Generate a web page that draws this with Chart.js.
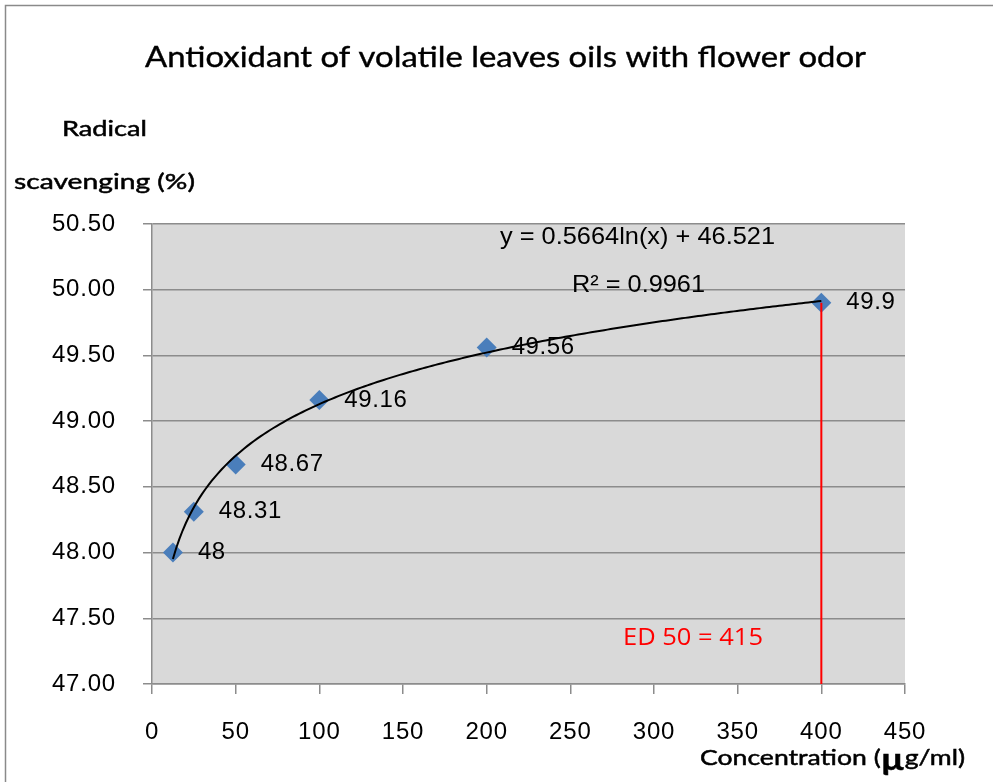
<!DOCTYPE html>
<html><head><meta charset="utf-8">
<script src="https://cdn.jsdelivr.net/npm/chart.js@4.4.1/dist/chart.umd.min.js"></script>
<style>html,body{margin:0;padding:0;background:#fff;}#wrap{width:993px;height:782px;}</style>
</head><body><div id="wrap"><canvas id="c" width="993" height="782"></canvas></div>
<script>
const concentrations = [12.5, 25, 50, 100, 200, 400];
const scavenging = [48, 48.31, 48.67, 49.16, 49.56, 49.9];
const pointLabels = ['48', '48.31', '48.67', '49.16', '49.56', '49.9'];
const xTickValues = [0, 50, 100, 150, 200, 250, 300, 350, 400, 450];
const yTickValues = [47.0, 47.5, 48.0, 48.5, 49.0, 49.5, 50.0, 50.5];
const trendSlope = 0.5664;
const trendIntercept = 46.521;
const trendRange = [12.5, 400];
const ed50X = [400, 400];
const ed50Y = [49.9, 47.0];
const titleText = 'Antioxidant of volatile leaves oils with flower odor';
const equationText = 'y = 0.5664ln(x) + 46.521';
const r2Text = 'R\u00b2 = 0.9961';
const ed50Text = 'ED 50 = 415';

const GRID = '#8c8c8c';
const ARIAL = '"Liberation Sans", Arial, sans-serif';

function fitText(ctx, parts, left, cy, width, color, strokeW) {
  ctx.save();
  ctx.letterSpacing = '0px';
  let total = 0;
  parts.forEach(p => { ctx.font = p.font; p.w = ctx.measureText(p.t).width; total += p.w; });
  const s = width / total;
  ctx.translate(left, cy);
  ctx.scale(s, 1);
  ctx.fillStyle = color;
  ctx.strokeStyle = color;
  ctx.lineWidth = strokeW || 0;
  ctx.textBaseline = 'middle';
  ctx.textAlign = 'left';
  let x = 0;
  parts.forEach(p => {
    ctx.font = p.font;
    ctx.fillText(p.t, x, p.dy || 0);
    if (strokeW) ctx.strokeText(p.t, x, p.dy || 0);
    x += p.w;
  });
  ctx.restore();
}

const decorPlugin = {
  id: 'decor',
  beforeDraw(chart) {
    const ctx = chart.ctx, a = chart.chartArea;
    ctx.save();
    ctx.fillStyle = '#ffffff';
    ctx.fillRect(0, 0, chart.width, chart.height);
    ctx.strokeStyle = '#8a8a8a';
    ctx.lineWidth = 1.5;
    ctx.strokeRect(5.5, 5.5, 1100, 1100);
    ctx.fillStyle = '#d9d9d9';
    ctx.fillRect(a.left, a.top, a.right - a.left, a.bottom - a.top);
    ctx.restore();
    ctx.letterSpacing = '0.8px';
  },
  afterDatasetsDraw(chart) {
    const ctx = chart.ctx, xs = chart.scales.x, ys = chart.scales.y, a = chart.chartArea;
    ctx.save();
    ctx.beginPath();
    ctx.rect(a.left, a.top, a.right - a.left, a.bottom - a.top);
    ctx.clip();
    ctx.strokeStyle = '#000';
    ctx.lineWidth = 2;
    ctx.beginPath();
    const n = 200;
    for (let i = 0; i <= n; i++) {
      const xv = trendRange[0] + (trendRange[1] - trendRange[0]) * i / n;
      const yv = trendSlope * Math.log(xv) + trendIntercept;
      const px = xs.getPixelForValue(xv), py = ys.getPixelForValue(yv);
      if (i === 0) ctx.moveTo(px, py); else ctx.lineTo(px, py);
    }
    ctx.stroke();
    ctx.restore();
    const meta = chart.getDatasetMeta(1);
    ctx.save();
    ctx.letterSpacing = '0.6px';
    ctx.font = '24px ' + ARIAL;
    ctx.fillStyle = '#000';
    ctx.textBaseline = 'middle';
    ctx.textAlign = 'left';
    meta.data.forEach((el, i) => { ctx.fillText(pointLabels[i], el.x + 25, el.y); });
    ctx.restore();
  },
  afterDraw(chart) {
    const ctx = chart.ctx;
    const gothic = 'Lato, "Noto Sans", sans-serif';
    fitText(ctx, [{t: titleText, font: '28px ' + gothic}], 145, 58, 721, '#000', 0.4);
    fitText(ctx, [{t: 'Radical', font: '22px ' + gothic}], 62, 129, 85, '#000', 0.5);
    fitText(ctx, [{t: 'scavenging (%)', font: '22px ' + gothic}], 14, 182, 181, '#000', 0.5);
    fitText(ctx, [
      {t: 'Concentration (', font: '22px ' + gothic},
      {t: '\u00b5', font: 'bold 30px ' + gothic, dy: 2},
      {t: 'g/ml)', font: '22px ' + gothic}
    ], 700, 758, 265, '#000', 0.5);
    const arial = '24px ' + ARIAL;
    fitText(ctx, [{t: equationText, font: arial}], 500, 237, 275, '#000');
    fitText(ctx, [{t: r2Text, font: arial}], 572, 285, 133, '#000');
    fitText(ctx, [{t: ed50Text, font: '24px "Open Sans", sans-serif'}], 623, 638, 140, '#ff0000');
    ctx.letterSpacing = '0px';
  }
};

const pointData = concentrations.map((x, i) => ({x, y: scavenging[i]}));
const edData = ed50X.map((x, i) => ({x, y: ed50Y[i]}));

new Chart(document.getElementById('c'), {
  type: 'scatter',
  data: {
    datasets: [
      {
        data: edData, showLine: true, borderColor: '#ff0000', borderWidth: 2,
        pointRadius: 0, pointHoverRadius: 0, order: 1
      },
      {
        data: pointData, pointStyle: 'rectRot', pointRadius: 10, pointHoverRadius: 10,
        backgroundColor: '#4a7ebb', borderColor: '#4a7ebb', borderWidth: 0, showLine: false, order: 2
      }
    ]
  },
  options: {
    responsive: false, animation: false, devicePixelRatio: 1,
    layout: {padding: {top: 224, right: 88, left: 0, bottom: 0}},
    plugins: {legend: {display: false}, tooltip: {enabled: false}, title: {display: false}},
    scales: {
      x: {
        type: 'linear', min: 0, max: 450,
        afterBuildTicks: s => { s.ticks = xTickValues.map(v => ({value: v})); },
        afterFit: s => { s.height = 98; },
        ticks: {color: '#000', font: {family: ARIAL, size: 24}, padding: 24, maxRotation: 0, autoSkip: false},
        grid: {drawOnChartArea: false, drawTicks: true, tickLength: 10, color: GRID, lineWidth: 1.5},
        border: {display: true, color: GRID, width: 1.5}
      },
      y: {
        type: 'linear', min: 47, max: 50.5,
        afterBuildTicks: s => { s.ticks = yTickValues.map(v => ({value: v})); },
        afterFit: s => { s.width = 152; },
        ticks: {color: '#000', font: {family: ARIAL, size: 24}, padding: 27, callback: v => Number(v).toFixed(2)},
        grid: {drawOnChartArea: true, drawTicks: true, tickLength: 9, color: GRID, lineWidth: 1.5},
        border: {display: true, color: GRID, width: 1.5}
      }
    }
  },
  plugins: [decorPlugin]
});
</script></body></html>
